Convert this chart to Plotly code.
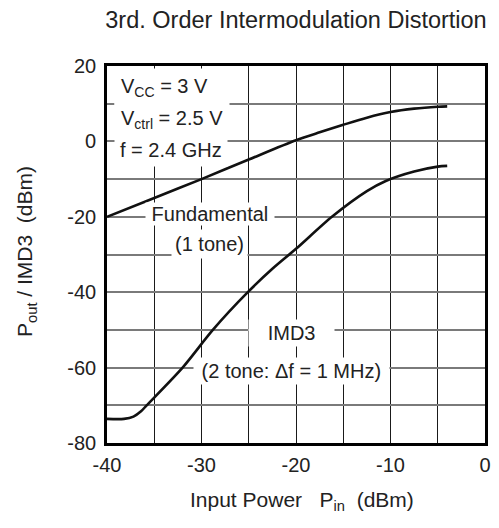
import plotly.graph_objects as go

# input power (dBm) and output levels (dBm)
pin_fund = [-40, -35, -30, -25, -20, -17.5, -15, -12.5, -10, -7.5, -5, -4]
pout_fund = [-20, -15, -10, -4.8, 0.3, 2.4, 4.4, 6.3, 7.8, 8.7, 9.2, 9.3]

pin_imd = [-40, -38.2, -37.2, -36.4, -35.8, -32, -28.8, -25.1, -22.5, -20,
           -16.2, -12.5, -10.5, -7.5, -5, -4]
pout_imd = [-73.6, -73.6, -73.0, -71.6, -70.0, -60.0, -50.0, -40.0, -33.8, -28.5,
            -20.0, -13.2, -10.5, -8.0, -6.7, -6.5]

x_ticks = [-40, -35, -30, -25, -20, -15, -10, -5, 0]
x_labels = ["-40", "", "-30", "", "-20", "", "-10", "", "0"]
y_ticks = [-80, -70, -60, -50, -40, -30, -20, -10, 0, 10, 20]
y_labels = ["-80", "", "-60", "", "-40", "", "-20", "", "0", "", "20"]

FONT = "Liberation Sans, Arial, sans-serif"
SP = "\u00a0"

fig = go.Figure()
fig.add_trace(go.Scatter(x=pin_fund, y=pout_fund, mode="lines",
                         line=dict(color="#111", width=2.6, shape="spline", smoothing=0.8)))
fig.add_trace(go.Scatter(x=pin_imd, y=pout_imd, mode="lines",
                         line=dict(color="#111", width=2.6, shape="spline", smoothing=0.8)))

notes = [
    ("V<sub>CC</sub> = 3 V", -39.3, 14.2, "left", 20, 6),
    ("V<sub>ctrl</sub> = 2.5 V", -39.3, 5.9, "left", 20, 6),
    ("f = 2.4 GHz", -39.3, -2.3, "left", 20, 5),
    (SP + "Fundamental" + SP, -29.1, -19.2, "center", 20, 0),
    ("(1 tone)", -29.2, -27.2, "center", 20, 3),
    (SP * 3 + "IMD3" + SP * 3, -20.5, -50.9, "center", 20, 2),
    (SP + "(2 tone: \u0394f = 1 MHz)" + SP, -20.5, -60.8, "center", 20, 2),
]
for text, x, y, anchor, size, pad in notes:
    fig.add_annotation(x=x, y=y, text=text, showarrow=False, xanchor=anchor,
                       yanchor="middle", bgcolor="white", borderpad=pad,
                       font=dict(size=size, color="#222", family=FONT))

fig.add_annotation(text="Input Power" + SP * 3 + "P<sub>in</sub>" + SP * 2 + "(dBm)",
                   xref="paper", yref="paper", x=0.516, y=-0.154, showarrow=False,
                   xanchor="center", yanchor="middle",
                   font=dict(size=21, color="#222", family=FONT))
fig.add_annotation(text="P<sub>out</sub> / IMD3" + SP * 2 + "(dBm)",
                   xref="paper", yref="paper", x=-0.214, y=0.507, showarrow=False,
                   textangle=-90, xanchor="center", yanchor="middle",
                   font=dict(size=21, color="#222", family=FONT))

fig.update_layout(
    width=499, height=528,
    margin=dict(l=107, r=14, t=66, b=85, autoexpand=False),
    paper_bgcolor="white", plot_bgcolor="white",
    showlegend=False,
    font=dict(family=FONT, size=20, color="#222"),
    title=dict(text="3rd. Order Intermodulation Distortion", x=0.5, xref="paper",
               y=1 - 20 / 528, yref="container", yanchor="middle",
               font=dict(size=23.5, color="#222", family=FONT)),
    xaxis=dict(range=[-40, 0], tickvals=x_ticks, ticktext=x_labels,
               showgrid=True, gridcolor="#1a1a1a", gridwidth=1.2,
               showline=True, linecolor="black", linewidth=2.6, mirror=True,
               zeroline=False, ticks="", ticklabelstandoff=2, automargin=False),
    yaxis=dict(range=[-80, 20], tickvals=y_ticks, ticktext=y_labels,
               showgrid=True, gridcolor="#7a7a7a", gridwidth=1.6,
               showline=True, linecolor="black", linewidth=2.6, mirror=True,
               zeroline=False, ticks="", ticklabelstandoff=4, automargin=False),
)

# the page's default 8px body margin would shift the figure
fig.write_html("out.html", config={"displayModeBar": False},
               post_script="document.body.style.margin='0';")
